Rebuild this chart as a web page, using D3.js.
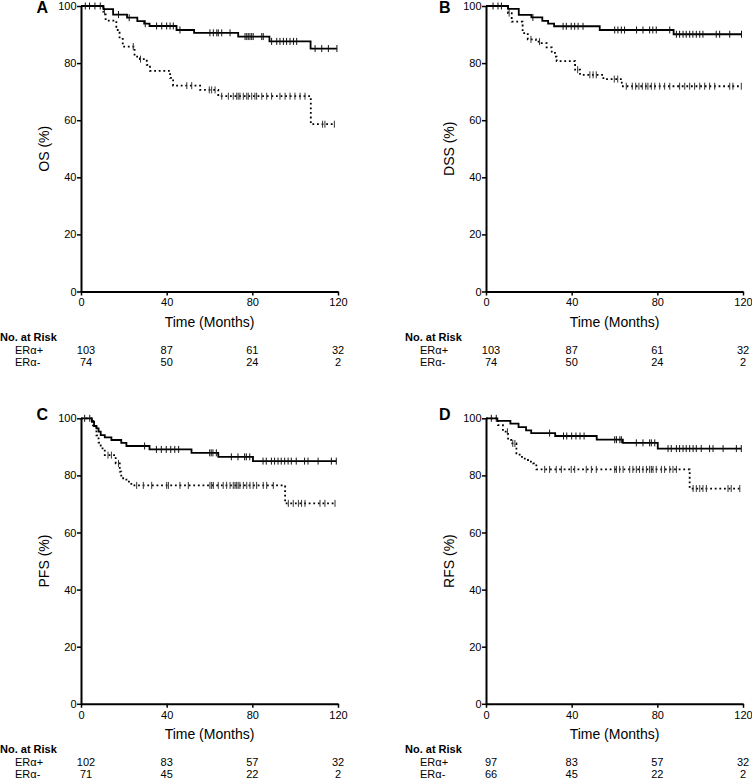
<!DOCTYPE html>
<html><head><meta charset="utf-8">
<script src="https://cdn.jsdelivr.net/npm/d3@7"></script>
<style>
body{margin:0;background:#fff;}
svg{display:block;font-family:"Liberation Sans",Arial,Helvetica,sans-serif;}
</style>
</head><body>
<svg id="chart" width="752" height="780"></svg>
<script>
// ---- tick labels / categories ----
const xTicks = [0, 40, 80, 120];
const yTicks = [0, 20, 40, 60, 80, 100];
const groupLabels = ["ERα+", "ERα-"];
const panelLetters = ["A", "B", "C", "D"];
const yTitles = ["OS (%)", "DSS (%)", "PFS (%)", "RFS (%)"];

// ---- Panel A (OS) ----
const aPosT = [0, 10.5, 15, 21.5, 26.3, 29.5, 32, 44.6, 52.8, 73.4, 88, 107.2];
const aPosS = [100, 98.9, 97, 95.9, 94.7, 93.8, 93, 91.6, 90.6, 89.3, 87.6, 85.1];
const aPosC = [2, 4, 6.5, 9, 17.5, 22.5, 30, 35.3, 37.7, 40, 41.6, 43.1, 46.2, 60.2, 61.8, 63.4, 64.1, 65.7, 69.6, 76.6, 77.4, 78.1, 78.9, 79.7, 80.4, 84.4, 85.1, 89, 91.4, 92.9, 94.5, 96, 97.6, 99.2, 100.7, 109.3, 112.4, 115.5, 119.5];
const aNegT = [0, 10.4, 11.5, 16.5, 18, 19.5, 25, 27.5, 30.7, 32.2, 41.6, 43, 55.6, 64.1, 107.3];
const aNegS = [100, 98, 94.9, 91.6, 88.5, 85.8, 82.3, 81.4, 79.4, 77.3, 74.8, 72.1, 70.6, 68.4, 58.6];
const aNegC = [11, 24.4, 27.8, 49.4, 51.7, 59.9, 61, 62.6, 65.7, 68.8, 71.1, 72.7, 73.4, 74.2, 75.8, 77.4, 78.1, 79.7, 81.2, 82, 84.4, 86.7, 89, 92.9, 95.3, 97.6, 99.9, 102.3, 104.6, 112.8, 113.9, 118.3];
const aRiskPos = [103, 87, 61, 32];
const aRiskNeg = [74, 50, 24, 2];

// ---- Panel B (DSS) ----
const bPosT = [0, 10.3, 15.3, 21.2, 26.3, 29, 31.8, 53.1, 87.6];
const bPosS = [100, 99, 96.9, 96, 94.8, 93.8, 92.9, 91.6, 90.1];
const bPosC = [3.3, 5.6, 7.2, 21.9, 36, 37.5, 39.8, 41.4, 43, 45.3, 60.1, 61.6, 63.2, 64.7, 70.3, 73.3, 76.4, 77.9, 79.5, 85.8, 88.9, 90.4, 92, 93.5, 95.1, 96.6, 98.2, 99.8, 101.3, 107.5, 109.1, 113.8, 119.3];
const bNegT = [0, 10.3, 12, 17.1, 19.5, 23.3, 26, 28.3, 30.7, 32.2, 33, 41.6, 43.9, 54.8, 63.4];
const bNegS = [100, 97.5, 94.5, 90.5, 88.3, 87.5, 87, 85.5, 84, 82.3, 80.7, 77.7, 75.9, 74.4, 71.9];
const bNegC = [10.8, 21, 25, 42.8, 48.5, 50, 51.5, 59.9, 61.5, 65.5, 68.3, 69.9, 71.4, 73, 74.6, 75.6, 77.2, 78.8, 81.1, 83.4, 85.8, 90.4, 92.8, 95.1, 97.4, 99.8, 102.1, 104.4, 106.8, 113.8, 115.3, 119.2];
const bRiskPos = [103, 87, 61, 32];
const bRiskNeg = [74, 50, 24, 2];

// ---- Panel C (PFS) ----
const cPosT = [0, 5.1, 6.1, 7.2, 8.2, 9.2, 11.1, 14.2, 18.8, 21.2, 32, 51.6, 64.1, 80.3];
const cPosS = [100, 98.8, 97.3, 96.5, 95.3, 94.1, 93.3, 92.4, 91.4, 90.3, 89.1, 87.9, 86.5, 85];
const cPosC = [1.7, 4.1, 29.7, 35.2, 37.5, 39.8, 41.9, 43.8, 45.6, 60.1, 60.8, 61.6, 63.2, 70.2, 73.3, 76.4, 77.2, 78.8, 85, 86.5, 88.9, 90.4, 92, 93.5, 95.1, 96.7, 98.2, 100.5, 104.4, 106, 110.7, 116.9, 119.2];
const cNegT = [0, 5.6, 7.2, 8.2, 9.2, 11.1, 16.2, 18.1, 18.8, 21.2, 23.5, 95.3];
const cNegS = [100, 97.5, 94, 91.5, 89.5, 87.1, 84.2, 81.3, 79, 77.8, 76.5, 70.2];
const cNegC = [12.6, 14.2, 17.5, 26, 29.1, 33, 40, 40.8, 46.2, 50.1, 60.2, 61, 61.8, 64.1, 66.4, 68, 69.6, 71.1, 71.9, 72.7, 73.4, 74.2, 75.8, 77.4, 78.9, 80.4, 82, 85.1, 86.7, 89.8, 96.8, 99.1, 101.5, 103, 104.6, 111.6, 113.9, 118.6];
const cRiskPos = [102, 83, 57, 32];
const cRiskNeg = [71, 45, 22, 2];

// ---- Panel D (RFS) ----
const dPosT = [0, 5.3, 11.4, 15.2, 18.7, 21.1, 32.3, 51.7, 63.9, 80.2];
const dPosS = [100, 99.1, 98.1, 96.9, 95.8, 94.8, 93.8, 92.5, 91.4, 89.4];
const dPosC = [2.5, 4.8, 29.7, 36.2, 37.7, 40, 42, 43.9, 45.8, 60.1, 60.9, 62.5, 63.2, 70.2, 73.3, 76.4, 77.2, 78.8, 85, 86.5, 88.9, 90.4, 92, 93.5, 95.1, 96.7, 98.2, 100.5, 104.4, 106, 110.7, 116.9, 119.2];
const dNegT = [0, 5.6, 7.9, 10.3, 11.8, 14.2, 15.7, 18.1, 19.6, 21.9, 23.5, 95.1];
const dNegS = [100, 97.6, 95.3, 92.4, 91.2, 87.7, 86.5, 85.4, 84.8, 84.2, 82.1, 75.4];
const dNegC = [10, 12.5, 13.5, 27.4, 29.7, 32.8, 35.2, 39.8, 41.4, 46.8, 49.2, 51.5, 60.1, 60.9, 62.4, 64, 67.1, 68.6, 70.2, 71.7, 73.3, 74.9, 76.4, 77.2, 78, 79.5, 81.9, 83.4, 85.8, 87.3, 88.9, 96.7, 98.2, 99.8, 101.3, 102.9, 113, 114.5, 118.5];
const dRiskPos = [97, 83, 57, 32];
const dRiskNeg = [66, 45, 22, 2];

// ---- layout ----
const W = 257, H = 285.5;
const panels = [
  {left: 81,  top: 6,     letterX: 36.5, letterY: 13,  pos: [aPosT, aPosS, aPosC], neg: [aNegT, aNegS, aNegC], risk: [aRiskPos, aRiskNeg]},
  {left: 486, top: 6,     letterX: 439,  letterY: 13,  pos: [bPosT, bPosS, bPosC], neg: [bNegT, bNegS, bNegC], risk: [bRiskPos, bRiskNeg]},
  {left: 81,  top: 418.3, letterX: 36.5, letterY: 420, pos: [cPosT, cPosS, cPosC], neg: [cNegT, cNegS, cNegC], risk: [cRiskPos, cRiskNeg]},
  {left: 486, top: 418.3, letterX: 439,  letterY: 420, pos: [dPosT, dPosS, dPosC], neg: [dNegT, dNegS, dNegC], risk: [dRiskPos, dRiskNeg]}
];

const svg = d3.select("#chart");
const x = d3.scaleLinear().domain([0, 120]).range([0, W]);
const y = d3.scaleLinear().domain([0, 100]).range([H, 0]);

function stepValue(T, S, t) {
  let v = S[0];
  for (let i = 0; i < T.length; i++) if (T[i] <= t) v = S[i];
  return v;
}

function drawCurve(g, T, S, C, dotted) {
  const end = Math.max(T[T.length - 1], C.length ? C[C.length - 1] : 0);
  const pts = T.map((t, i) => [t, S[i]]);
  pts.push([end, S[S.length - 1]]);
  const line = d3.line().x(d => x(d[0])).y(d => y(d[1])).curve(d3.curveStepAfter);
  g.append("path")
    .attr("d", line(pts))
    .attr("fill", "none")
    .attr("stroke", "#000")
    .attr("stroke-width", 1.8)
    .attr("stroke-dasharray", dotted ? "1.8,2.8" : null);
  g.selectAll(null).data(C).enter().append("line")
    .attr("x1", d => x(d)).attr("x2", d => x(d))
    .attr("y1", d => y(stepValue(T, S, d)) - 3.5)
    .attr("y2", d => y(stepValue(T, S, d)) + 3.5)
    .attr("stroke", dotted ? "#333" : "#111")
    .attr("stroke-width", 1);
}

panels.forEach((p, k) => {
  const g = svg.append("g").attr("transform", `translate(${p.left},${p.top})`);

  // panel letter
  svg.append("text").attr("x", p.letterX).attr("y", p.letterY)
    .attr("font-size", 16).attr("font-weight", "bold").text(panelLetters[k]);

  // axes
  const ya = g.append("g").call(d3.axisLeft(y).tickValues(yTicks).tickSize(4).tickPadding(0.5).tickSizeOuter(0));
  const xa = g.append("g").attr("transform", `translate(0,${H})`)
    .call(d3.axisBottom(x).tickValues(xTicks).tickSize(4).tickPadding(3).tickSizeOuter(0));
  [ya, xa].forEach(a => {
    a.select(".domain").attr("stroke-width", 2).attr("stroke", "#000");
    a.selectAll(".tick line").attr("stroke-width", 1.5).attr("stroke", "#000");
    a.selectAll(".tick text").attr("font-size", 11).attr("fill", "#000")
      .attr("font-family", "Liberation Sans, Arial, sans-serif");
  });

  // axis titles
  g.append("text").attr("transform", `translate(-32,${H / 2}) rotate(-90)`)
    .attr("text-anchor", "middle").attr("font-size", 14).text(yTitles[k]);
  g.append("text").attr("x", W / 2).attr("y", H + 35.5)
    .attr("text-anchor", "middle").attr("font-size", 14).text("Time (Months)");

  // curves
  drawCurve(g, p.neg[0], p.neg[1], p.neg[2], true);
  drawCurve(g, p.pos[0], p.pos[1], p.pos[2], false);

  // number at risk table
  g.append("text").attr("x", -81).attr("y", H + 49.5)
    .attr("font-size", 11).attr("font-weight", "bold").text("No. at Risk");
  const rowY = [H + 62.5, H + 74.5];
  groupLabels.forEach((lab, r) => {
    g.append("text").attr("x", -66).attr("y", rowY[r]).attr("font-size", 11).text(lab);
    g.selectAll(null).data(p.risk[r]).enter().append("text")
      .attr("x", (d, i) => x(xTicks[i]) + (i === 0 ? 5 : 0))
      .attr("y", rowY[r])
      .attr("text-anchor", "middle")
      .attr("font-size", 11)
      .text(d => d);
  });
});
</script>
</body></html>
